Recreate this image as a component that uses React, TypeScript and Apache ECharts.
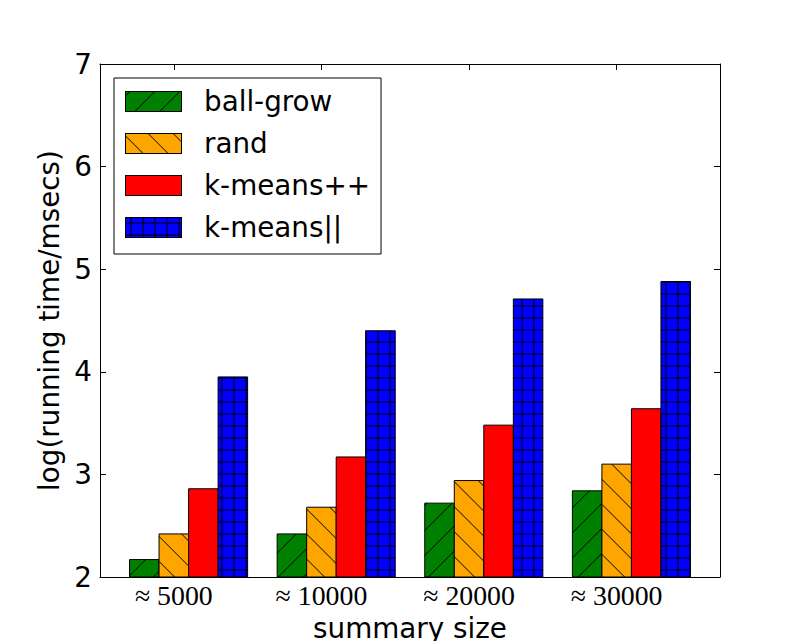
import React, { useEffect, useRef } from "react";
import * as echarts from "echarts";

// ---- data ----
const categories = ["≈ 5000", "≈ 10000", "≈ 20000", "≈ 30000"];
const seriesNames = ["ball-grow", "rand", "k-means++", "k-means||"];
const ballGrow = [2.17, 2.42, 2.72, 2.84];
const rand = [2.42, 2.68, 2.94, 3.1];
const kmeansPP = [2.86, 3.17, 3.48, 3.64];
const kmeansPar = [3.95, 4.4, 4.71, 4.88];
const yMin = 2;
const yMax = 7;

const seriesValues = [ballGrow, rand, kmeansPP, kmeansPar];
const colors = ["#008000", "#FFA500", "#FF0000", "#0000FF"];
const hatches = ["/", "\\", "", "+"];
const BAR_W = 0.2;
const FONT = "DejaVu Sans";
const FS = 27.8;

function hatchLines(kind: string, x0: number, y0: number, x1: number, y1: number) {
  const segs: number[][] = [];
  if (kind === "/") {
    const P = 25, ph = 5.3;
    let c = Math.floor((x0 + y0 - ph) / P) * P + ph;
    for (; c <= x1 + y1; c += P) {
      const lo = Math.max(x0, c - y1);
      const hi = Math.min(x1, c - y0);
      if (hi > lo) segs.push([lo, c - lo, hi, c - hi]);
    }
  } else if (kind === "\\") {
    const P = 25, ph = 22.6;
    let c = Math.floor((x0 - y1 - ph) / P) * P + ph;
    for (; c <= x1 - y0; c += P) {
      const lo = Math.max(x0, y0 + c);
      const hi = Math.min(x1, y1 + c);
      if (hi > lo) segs.push([lo, lo - c, hi, hi - c]);
    }
  } else if (kind === "+") {
    const P = 12, ph = 6;
    for (let y = Math.ceil((y0 - ph) / P) * P + ph; y < y1; y += P) {
      if (y > y0) segs.push([x0, y, x1, y]);
    }
    for (let x = Math.ceil((x0 - ph) / P) * P + ph; x < x1; x += P) {
      if (x > x0) segs.push([x, y0, x, y1]);
    }
  }
  return segs;
}

function iconUrl(color: string, kind: string) {
  const w = 57, h = 21;
  const segs = hatchLines(kind, 0, 0, w, h);
  const lines = segs
    .map((s) => `<line x1='${s[0]}' y1='${s[1]}' x2='${s[2]}' y2='${s[3]}' stroke='black' stroke-width='1'/>`)
    .join("");
  const svg = `<svg xmlns='http://www.w3.org/2000/svg' width='${w}' height='${h}' viewBox='0 0 ${w} ${h}'><rect x='0' y='0' width='${w}' height='${h}' fill='${color}'/>${lines}<rect x='0.5' y='0.5' width='${w - 1}' height='${h - 1}' fill='none' stroke='black' stroke-width='1'/></svg>`;
  return "image://data:image/svg+xml;charset=utf-8," + encodeURIComponent(svg);
}

export default function App() {
  const ref = useRef<HTMLDivElement>(null);
  useEffect(() => {
    document.body.style.margin = "0";
    const chart = echarts.init(ref.current!, null, { renderer: "svg" });
    const tickPos = categories.map((_, i) => i + 1.5 * BAR_W);

    const series = seriesNames.map((name, s) => ({
      type: "custom",
      name,
      xAxisIndex: 0,
      yAxisIndex: 0,
      encode: { x: 0, y: 1 },
      itemStyle: { color: colors[s] },
      data: seriesValues[s].map((v, i) => [i, v]),
      renderItem: (params: any, api: any) => {
        const i = api.value(0);
        const v = api.value(1);
        const p0 = api.coord([i + s * BAR_W, v]);
        const p1 = api.coord([i + (s + 1) * BAR_W, yMin]);
        const x0 = p0[0], y0 = p0[1], x1 = p1[0], y1 = p1[1];
        const children: any[] = [
          {
            type: "rect",
            shape: { x: x0, y: y0, width: x1 - x0, height: y1 - y0 },
            style: { fill: colors[s], stroke: "none" },
          },
        ];
        hatchLines(hatches[s], x0, y0, x1, y1).forEach((seg) => {
          children.push({
            type: "line",
            shape: { x1: seg[0], y1: seg[1], x2: seg[2], y2: seg[3] },
            style: { stroke: "#000", lineWidth: 1 },
          });
        });
        children.push({
          type: "rect",
          shape: { x: x0, y: y0, width: x1 - x0, height: y1 - y0 },
          style: { fill: "none", stroke: "#000", lineWidth: 1 },
        });
        return { type: "group", children };
      },
    }));

    const commonX = {
      type: "value",
      min: -0.2,
      max: 4.0,
      splitLine: { show: false },
      axisLine: { show: true, onZero: false, lineStyle: { color: "#000", width: 1 } },
    };
    const commonY = {
      type: "value",
      min: yMin,
      max: yMax,
      interval: 1,
      splitLine: { show: false },
      axisLine: { show: true, onZero: false, lineStyle: { color: "#000", width: 1 } },
      axisTick: { show: true, inside: true, length: 6, lineStyle: { color: "#000" } },
    };

    chart.setOption({
      animation: false,
      grid: { left: 100, right: 80, top: 64, bottom: 64, containLabel: false, outerBoundsMode: "none" },
      xAxis: [
        {
          ...commonX,
          position: "bottom",
          name: "summary size",
          nameLocation: "middle",
          nameGap: 51.4,
          nameTextStyle: { fontFamily: FONT, fontSize: FS, color: "#000", verticalAlign: "middle", lineHeight: 28 },
          axisTick: { show: true, inside: true, length: 6, customValues: tickPos, lineStyle: { color: "#000" } },
          axisLabel: {
            show: true,
            customValues: tickPos,
            formatter: (val: number) => categories[Math.round(val - 1.5 * BAR_W)] ?? "",
            fontFamily: "Liberation Serif",
            fontSize: FS,
            color: "#000",
            verticalAlign: "middle",
            lineHeight: 28,
            margin: 18.6,
          },
        },
        {
          ...commonX,
          position: "top",
          axisTick: { show: true, inside: true, length: 6, customValues: tickPos, lineStyle: { color: "#000" } },
          axisLabel: { show: false },
        },
      ],
      yAxis: [
        {
          ...commonY,
          position: "left",
          name: "log(running time/msecs)",
          nameLocation: "middle",
          nameRotate: 90,
          nameGap: 47,
          nameTextStyle: { fontFamily: FONT, fontSize: FS, color: "#000", verticalAlign: "middle", lineHeight: 28 },
          axisLabel: { show: true, fontFamily: FONT, fontSize: FS, color: "#000", margin: 8 },
        },
        {
          ...commonY,
          position: "right",
          axisLabel: { show: false },
        },
      ],
      legend: {
        orient: "vertical",
        left: 114,
        top: 78,
        padding: [9.5, 11, 12.5, 11],
        itemWidth: 57,
        itemHeight: 21,
        itemGap: 14,
        backgroundColor: "#fff",
        borderColor: "#000",
        borderWidth: 1,
        borderRadius: 0,
        selectedMode: false,
        textStyle: { fontFamily: FONT, fontSize: FS, color: "#000", lineHeight: 28, padding: [0, 0, 0, 17] },
        data: seriesNames.map((name, s) => ({ name, icon: iconUrl(colors[s], hatches[s]) })),
      },
      series,
    });
    return () => chart.dispose();
  }, []);
  return <div ref={ref} style={{ width: 800, height: 641 }} />;
}
